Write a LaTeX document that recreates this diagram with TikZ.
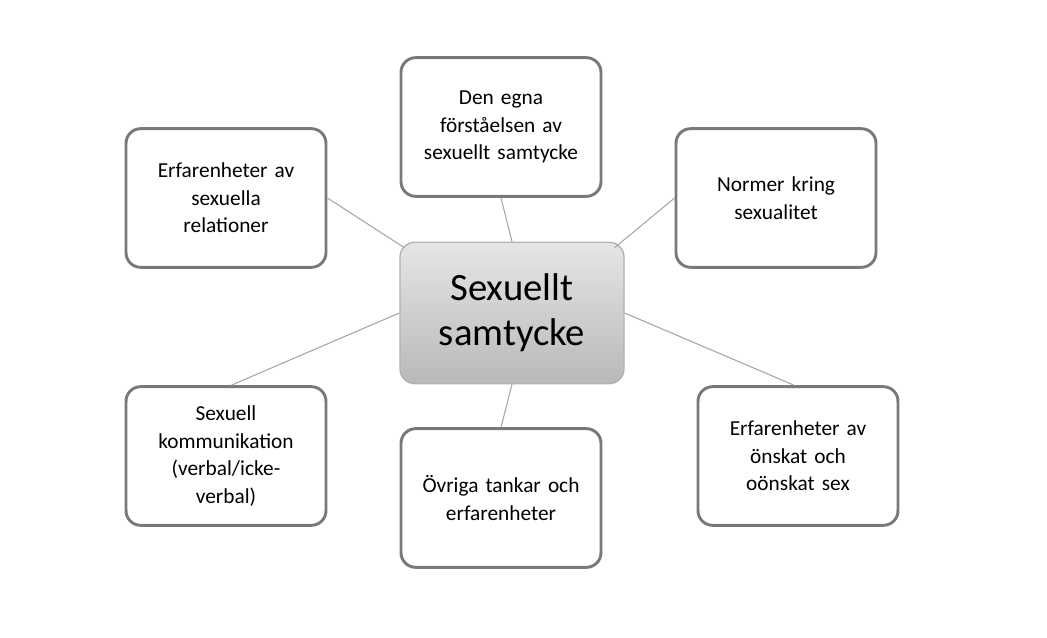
\documentclass[tikz,border=0pt]{standalone}
\usepackage{fontspec}
\setmainfont{Carlito}
\begin{document}
\begin{tikzpicture}[x=0.75pt, y=-0.75pt,
  topic/.style={draw=gray!95!black, line width=2.2pt, rounded corners=11pt, fill=white,
    minimum width=150pt, minimum height=104pt, align=center, text width=130pt,
    font=\fontsize{16}{20.6}\selectfont},
  core/.style={draw=gray!60, line width=1pt, rounded corners=11pt,
    top color=gray!20, bottom color=gray!55,
    minimum width=168pt, minimum height=106pt, align=center,
    font=\fontsize{29}{34}\selectfont},
  link/.style={draw=gray!70, line width=0.8pt}]
  \useasboundingbox (0,0) rectangle (1047,638);
  % center
  \node[core] (core) at (512,313) {Sexuellt\\samtycke};
  % surrounding topics
  \node[topic] (own) at (501,127) {Den egna\\förståelsen av\\sexuellt samtycke};
  \node[topic] (rel) at (226,198) {Erfarenheter av\\sexuella\\relationer};
  \node[topic] (norm) at (776,198) {Normer kring\\sexualitet};
  \node[topic] (comm) at (226,456) {Sexuell\\kommunikation\\(verbal/icke-\\verbal)};
  \node[topic] (other) at (501,498) {Övriga tankar och\\erfarenheter};
  \node[topic] (want) at (798,456) {Erfarenheter av\\önskat och\\oönskat sex};
  % connectors
  \draw[link] (own.south) -- (core.north);
  \draw[link] (rel.east) -- ([shift={(5,6)}]core.north west);
  \draw[link] (norm.west) -- ([shift={(-10,6)}]core.north east);
  \draw[link] (core.west) -- ([xshift=4]comm.north);
  \draw[link] (core.east) -- ([xshift=-3]want.north);
  \draw[link] (core.south) -- (other.north);
\end{tikzpicture}
\end{document}
